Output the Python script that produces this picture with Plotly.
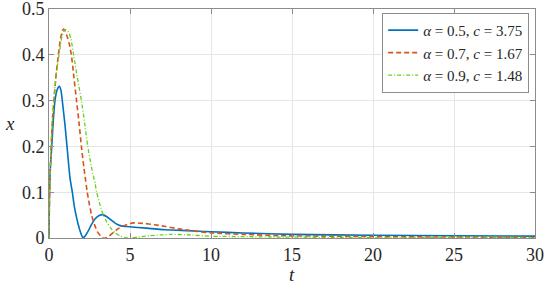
import plotly.graph_objects as go

# values
t_a05 = [0, 0.03, 0.08, 0.17, 0.27, 0.37, 0.5, 0.64, 0.74, 0.82, 0.99, 1.15, 1.3, 1.44, 1.55,
         1.67, 1.8, 1.95, 2.05, 2.12, 2.22, 2.4, 2.6, 2.85, 3.1, 3.3, 3.55, 3.8, 4.1, 4.4,
         4.8, 5.5, 6.5, 7.2, 8.5, 10, 12, 15, 20, 25, 30]
x_a05 = [0, 0.1, 0.15, 0.2, 0.26, 0.3, 0.323, 0.331, 0.322, 0.3, 0.246, 0.185, 0.13, 0.1, 0.072,
         0.05, 0.03, 0.012, 0.003, 0.0, 0.004, 0.014, 0.028, 0.042, 0.049, 0.051, 0.047, 0.04, 0.032, 0.027,
         0.025, 0.023, 0.02, 0.018, 0.016, 0.0137, 0.011, 0.008, 0.006, 0.005, 0.004]

t_a07 = [0, 0.03, 0.1, 0.2, 0.3, 0.45, 0.58, 0.72, 0.88, 1.0, 1.12, 1.25, 1.38, 1.54, 1.7,
         1.87, 2.0, 2.15, 2.26, 2.36, 2.5, 2.63, 2.8, 3.0, 3.2, 3.35, 3.5, 3.7, 4.0, 4.3,
         4.7, 5.2, 5.8, 6.5, 7.2, 8.0, 9.0, 10, 12, 14.3, 17, 20, 25, 30]
x_a07 = [0, 0.09, 0.17, 0.25, 0.3, 0.36, 0.4, 0.437, 0.456, 0.452, 0.44, 0.424, 0.4, 0.35, 0.3,
         0.246, 0.2, 0.155, 0.126, 0.1, 0.072, 0.05, 0.03, 0.013, 0.004, 0.0, 0.0, 0.004, 0.013, 0.021,
         0.028, 0.033, 0.032, 0.029, 0.025, 0.02, 0.015, 0.011, 0.008, 0.005, 0.004, 0.003, 0.002, 0.0015]

t_a09 = [0, 0.03, 0.1, 0.2, 0.3, 0.45, 0.62, 0.8, 0.95, 1.05, 1.2, 1.35, 1.52, 1.75, 2.0,
         2.22, 2.39, 2.65, 2.85, 2.94, 3.15, 3.35, 3.55, 3.8, 4.1, 4.4, 4.7, 5.0, 5.5, 6.2,
         7.0, 7.5, 8.5, 10, 12, 14.3, 20, 25, 30]
x_a09 = [0, 0.09, 0.17, 0.25, 0.3, 0.36, 0.4, 0.44, 0.453, 0.455, 0.45, 0.435, 0.4, 0.35, 0.3,
         0.246, 0.2, 0.15, 0.118, 0.1, 0.072, 0.05, 0.036, 0.022, 0.011, 0.004, 0.001, 0.0, 0.002, 0.005,
         0.007, 0.008, 0.007, 0.004, 0.003, 0.002, 0.001, 0.0008, 0.0005]

names = ["<i>α</i> = 0.5, <i>c</i> = 3.75",
         "<i>α</i> = 0.7, <i>c</i> = 1.67",
         "<i>α</i> = 0.9, <i>c</i> = 1.48"]

x_ticks = [0, 5, 10, 15, 20, 25, 30]
y_ticks = [0, 0.1, 0.2, 0.3, 0.4, 0.5]
y_labels = ["0", "0.1", "0.2", "0.3", "0.4", "0.5"]

FONT = "Liberation Serif"
TXT = "#262626"

fig = go.Figure()
fig.add_trace(go.Scatter(x=t_a05, y=x_a05, mode="lines", name=names[0],
                         line=dict(color="#0072BD", width=1.6, shape="spline", smoothing=0.6)))
fig.add_trace(go.Scatter(x=t_a07, y=x_a07, mode="lines", name=names[1],
                         line=dict(color="#D95319", width=1.6, dash="5px,3px", shape="spline", smoothing=0.6)))
fig.add_trace(go.Scatter(x=t_a09, y=x_a09, mode="lines", name=names[2],
                         line=dict(color="#66D11A", width=1.3, dash="4px,2px,1px,2px", shape="spline", smoothing=0.6)))

axis_common = dict(showline=True, linecolor="#8c8c8c", linewidth=1, mirror="ticks",
                   ticks="inside", ticklen=5, tickcolor="#8c8c8c",
                   showgrid=True, gridcolor="#e6e6e6", gridwidth=1, zeroline=False,
                   automargin=False, ticklabeloverflow="allow",
                   tickfont=dict(family=FONT, size=18, color=TXT))

fig.update_xaxes(range=[0, 30], tickvals=x_ticks, **axis_common)
fig.update_yaxes(range=[0, 0.5], tickvals=y_ticks, ticktext=y_labels, **axis_common)

# axis titles placed as annotations so they sit where the reference has them
fig.add_annotation(text="<i>t</i>", xref="paper", yref="paper", x=0.5, y=-0.158,
                   xanchor="center", yanchor="middle", showarrow=False,
                   font=dict(family=FONT, size=19, color=TXT))
fig.add_annotation(text="<i>x</i>", xref="paper", yref="paper", x=-0.081, y=0.5,
                   xanchor="center", yanchor="middle", showarrow=False,
                   font=dict(family=FONT, size=19, color=TXT))

fig.update_layout(
    width=550, height=284,
    margin=dict(l=49, r=15, t=9, b=46),
    paper_bgcolor="white", plot_bgcolor="white",
    showlegend=True,
    legend=dict(x=0.988, y=0.983, xanchor="right", yanchor="top",
                bgcolor="white", bordercolor="#8c8c8c", borderwidth=1,
                font=dict(family=FONT, size=15, color=TXT),
                tracegroupgap=0, itemwidth=30),
)

fig.write_html("out.html", config={"displayModeBar": False},
               post_script="document.body.style.margin='0';")
